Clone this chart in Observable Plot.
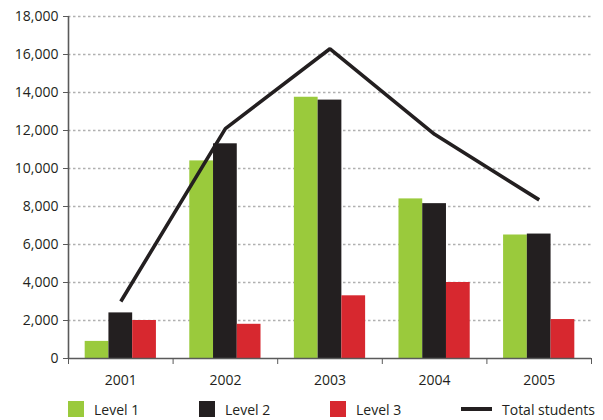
<!DOCTYPE html>
<html>
<head>
<meta charset="utf-8">
<script src="https://cdn.jsdelivr.net/npm/d3@7"></script>
<script src="https://cdn.jsdelivr.net/npm/@observablehq/plot@0.6"></script>
<style>
  body { margin: 0; background: #fff; font-family: "Open Sans", sans-serif; overflow: hidden; }
  #legend { display: flex; padding-left: 68px; height: 22px; align-items: center; font-size: 14px; color: #231f20; white-space: nowrap; }
  #legend .item { width: 131px; flex: none; display: flex; align-items: center; }
  #legend .item:last-child { width: auto; }
  #legend .sw { width: 16px; height: 16px; margin-right: 10px; flex: none; }
  #legend .ln { width: 31px; height: 4px; margin-right: 10px; flex: none; }
</style>
</head>
<body>
<div id="chart"></div>
<div id="legend"></div>
<script>
// Students per level, by year
const years = [2001, 2002, 2003, 2004, 2005];
const level1 = [900, 10400, 13750, 8400, 6500];
const level2 = [2400, 11300, 13600, 8150, 6550];
const level3 = [2000, 1800, 3300, 4000, 2050];
const totalStudents = [3000, 12100, 16300, 11800, 8350];

const seriesNames = ["Level 1", "Level 2", "Level 3"];
const lineName = "Total students";
const seriesColors = ["#9aca3c", "#231f20", "#d7282f"];
const lineColor = "#231f20";
const yTicks = [0, 2000, 4000, 6000, 8000, 10000, 12000, 14000, 16000, 18000];

const seriesValues = [level1, level2, level3];
const bars = seriesNames.flatMap((series, i) =>
  years.map((year, j) => ({year, series, i, value: seriesValues[i][j]}))
);
const totals = years.map((year, j) => ({year, value: totalStudents[j]}));

// three adjacent bars centred on each year
const slot = 0.227;
const bandEdges = d3.range(years.length + 1).map(k => years[0] - 0.5 + k);

const chart = Plot.plot({
  width: 603,
  height: 398,
  marginLeft: 68,
  marginRight: 12,
  marginTop: 16,
  marginBottom: 40,
  style: {fontFamily: "Open Sans", fontSize: "14px", color: "#231f20", background: "#fff"},
  x: {type: "linear", domain: [bandEdges[0], bandEdges[bandEdges.length - 1]]},
  y: {domain: [0, 18000]},
  color: {domain: seriesNames, range: seriesColors},
  marks: [
    Plot.gridY(yTicks.filter(t => t > 0), {stroke: "#b0b0b0", strokeOpacity: 1, strokeWidth: 1.3, strokeDasharray: "2.5,2.5"}),
    Plot.rectY(bars, {
      x1: d => d.year + (d.i - 1.5) * slot,
      x2: d => d.year + (d.i - 0.5) * slot,
      y: "value",
      fill: "series"
    }),
    Plot.line(totals, {x: "year", y: "value", stroke: lineColor, strokeWidth: 3.6, strokeLinejoin: "miter", strokeLinecap: "butt"}),
    Plot.ruleX([bandEdges[0]], {stroke: "#5a5a5a", strokeWidth: 1.6}),
    Plot.ruleY([0], {stroke: "#5a5a5a", strokeWidth: 1.6}),
    Plot.axisY(yTicks, {tickSize: 5, tickPadding: 5, tickFormat: d3.format(","), stroke: "#5a5a5a", label: null}),
    Plot.axisX(bandEdges, {tickSize: 6, tickFormat: () => "", stroke: "#5a5a5a", label: null}),
    Plot.axisX(years, {tickSize: 0, tickPadding: 17, tickFormat: d3.format("d"), label: null})
  ]
});
document.getElementById("chart").append(chart);

// legend below the chart
const legend = d3.select("#legend");
seriesNames.forEach((name, i) => {
  const item = legend.append("div").attr("class", "item");
  item.append("div").attr("class", "sw").style("background", seriesColors[i]);
  item.append("span").text(name);
});
const lineItem = legend.append("div").attr("class", "item");
lineItem.append("div").attr("class", "ln").style("background", lineColor);
lineItem.append("span").text(lineName);
</script>
</body>
</html>
